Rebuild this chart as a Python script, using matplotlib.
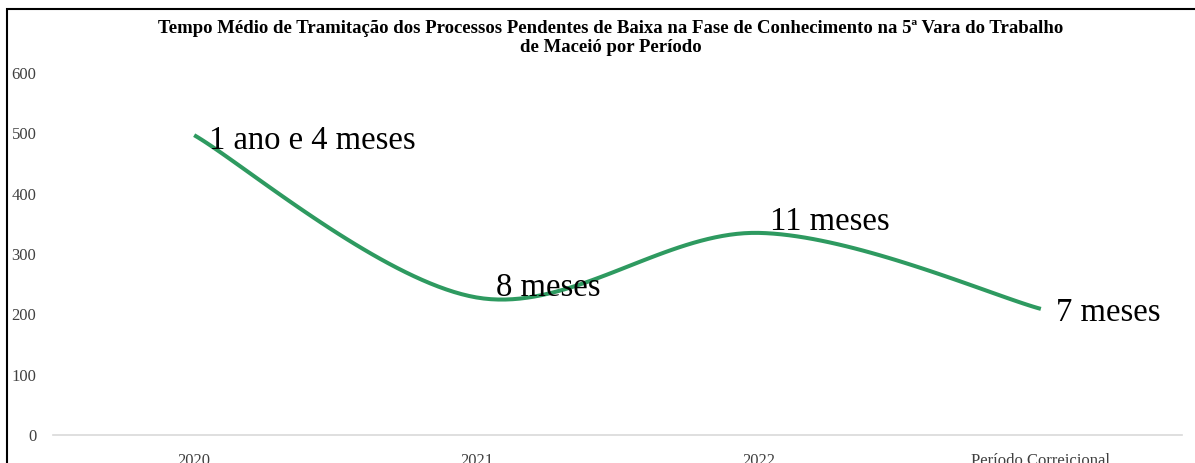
import matplotlib.pyplot as plt
import matplotlib.patches as mpatches
import numpy as np

plt.rcParams['font.family'] = ['Liberation Serif', 'DejaVu Serif']

periodos = ["2020", "2021", "2022", "Período Correicional"]
dias = [497, 228, 335, 209]
rotulos = ["1 ano e 4 meses", "8 meses", "11 meses", "7 meses"]

titulo = ("Tempo Médio de Tramitação dos Processos Pendentes de Baixa na Fase de Conhecimento na 5ª Vara do Trabalho\n"
          "de Maceió por Período")

# offsets of the data labels, in points
label_offsets = [(11, -10), (14, 1), (8, 2), (11, -9)]


def smooth(x, y, n=40):
    # Excel-like smoothed line (Catmull-Rom as cubic bezier)
    x = np.asarray(x, float)
    y = np.asarray(y, float)
    px = np.concatenate([[x[0]], x, [x[-1]]])
    py = np.concatenate([[y[0]], y, [y[-1]]])
    xs, ys = [], []
    t = np.linspace(0, 1, n)
    for i in range(1, len(px) - 2):
        p0 = np.array([px[i], py[i]])
        p3 = np.array([px[i + 1], py[i + 1]])
        c1 = p0 + (np.array([px[i + 1], py[i + 1]]) - np.array([px[i - 1], py[i - 1]])) / 6
        c2 = p3 - (np.array([px[i + 2], py[i + 2]]) - np.array([px[i], py[i]])) / 6
        pts = (((1 - t) ** 3)[:, None] * p0 + (3 * (1 - t) ** 2 * t)[:, None] * c1
               + (3 * (1 - t) * t ** 2)[:, None] * c2 + (t ** 3)[:, None] * p3)
        xs.extend(pts[:, 0])
        ys.extend(pts[:, 1])
    return np.array(xs), np.array(ys)


fig = plt.figure(figsize=(11.95, 4.63), dpi=100)
ax = fig.add_axes([0.0444, 0.0605, 0.9447, 0.7818])

x = np.arange(len(periodos))
sx, sy = smooth(x, dias)
ax.plot(sx, sy, color="#2e9a60", lw=2.9, solid_capstyle="butt")

for xi, yi, txt, off in zip(x, dias, rotulos, label_offsets):
    ax.annotate(txt, (xi, yi), xytext=off, textcoords="offset points",
                fontsize=23.5, va="baseline", ha="left", color="black")

ax.set_xlim(-0.5, len(periodos) - 0.5)
ax.set_ylim(0, 600)
ax.set_yticks(range(0, 601, 100))
ax.set_xticks(x)
ax.set_xticklabels(periodos)
ax.tick_params(axis="y", length=0, pad=12, labelsize=12, labelcolor="#404040")
ax.tick_params(axis="x", length=0, pad=13, labelsize=12, labelcolor="#404040")
for s in ["top", "right", "left"]:
    ax.spines[s].set_visible(False)
ax.spines["bottom"].set_color("#d9d9d9")
ax.spines["bottom"].set_linewidth(1.2)

fig.text(0.511, 0.918, titulo, ha="center", va="center", fontsize=13.5,
         fontweight="bold", linespacing=1.2)

# outer chart border (bottom and right are cut off in the picture)
fig.patches.append(mpatches.Rectangle((7 / 1195, -0.1), 1.2, 1 - 9 / 463 + 0.1,
                                      transform=fig.transFigure, fill=False,
                                      edgecolor="black", lw=1.5))

fig.savefig("out.png", dpi=100)
